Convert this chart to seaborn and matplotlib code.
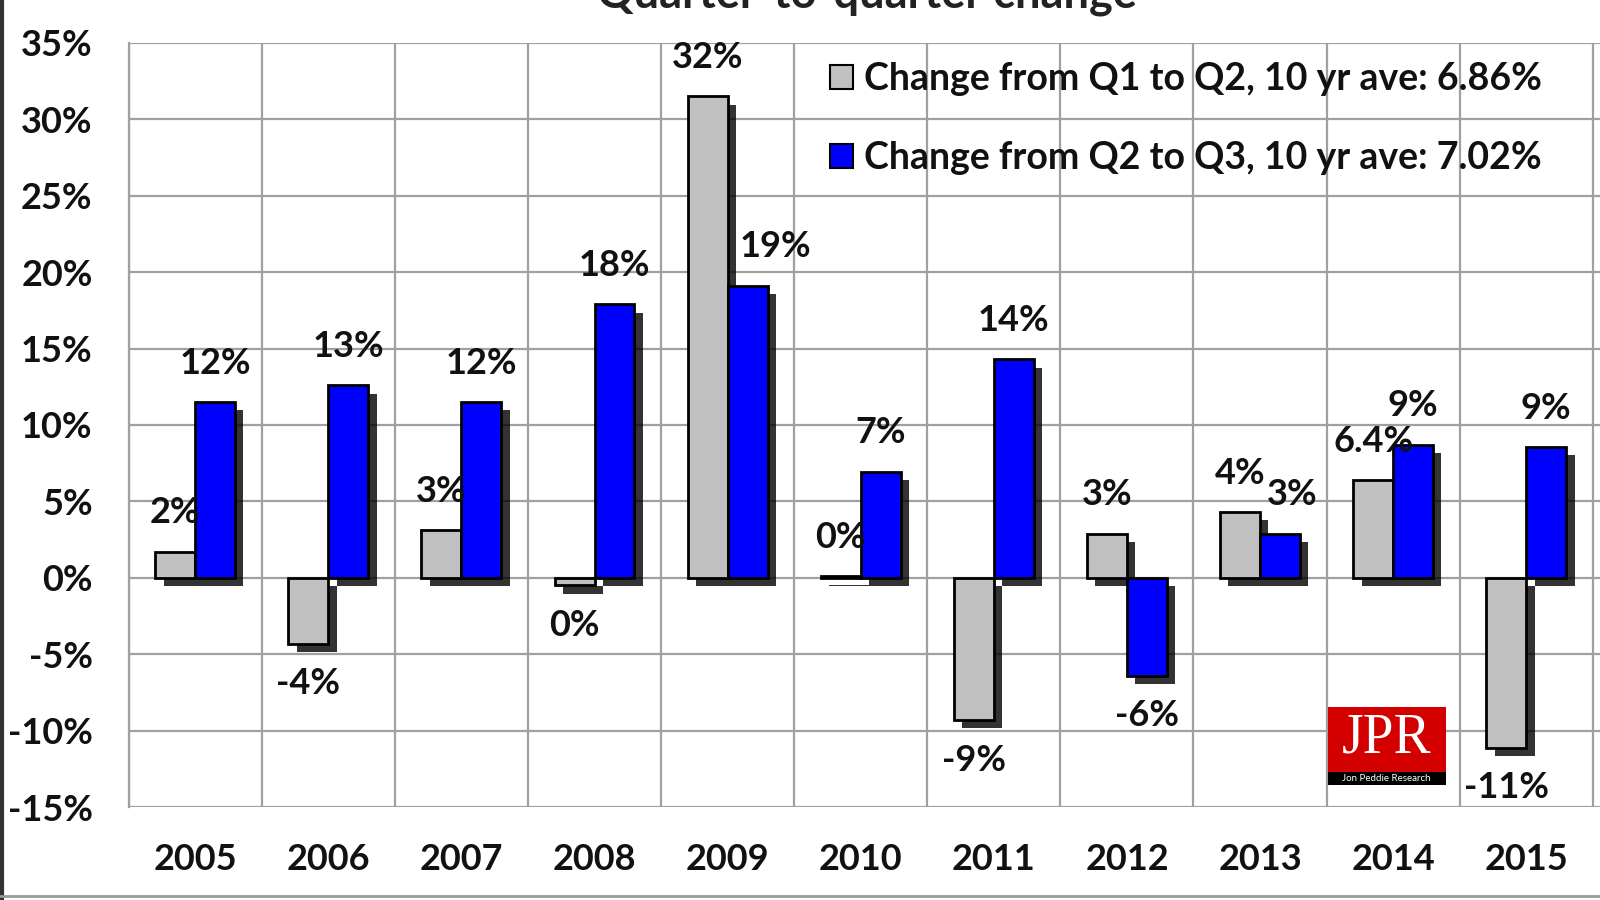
import matplotlib
matplotlib.use("Agg")
import matplotlib.pyplot as plt
import matplotlib.patheffects as pe
from matplotlib.patches import Patch, Rectangle
from matplotlib.lines import Line2D
import seaborn as sns
import pandas as pd
import numpy as np

years = ["2005", "2006", "2007", "2008", "2009", "2010", "2011", "2012", "2013", "2014", "2015"]
q1_q2 = [1.7, -4.3, 3.1, -0.5, 31.5, 0.1, -9.3, 2.9, 4.3, 6.4, -11.1]
q2_q3 = [11.5, 12.6, 11.5, 17.9, 19.1, 6.95, 14.3, -6.4, 2.9, 8.7, 8.55]
q1_q2_labels = ["2%", "-4%", "3%", "0%", "32%", "0%", "-9%", "3%", "4%", "6.4%", "-11%"]
q2_q3_labels = ["12%", "13%", "12%", "18%", "19%", "7%", "14%", "-6%", "3%", "9%", "9%"]
series_names = ["Change from Q1 to Q2, 10 yr ave: 6.86%",
                "Change from Q2 to Q3, 10 yr ave: 7.02%"]
title = "Quarter-to-quarter change"
y_ticks = [-15, -10, -5, 0, 5, 10, 15, 20, 25, 30, 35]

colors = ["#c0c0c0", "#0000ff"]
FONT = ["Lato", "DejaVu Sans"]
FS = 26

df = pd.DataFrame({
    "year": years * 2,
    "value": q1_q2 + q2_q3,
    "series": [series_names[0]] * len(years) + [series_names[1]] * len(years),
})

sns.set_theme(style="white")
plt.rcParams["font.family"] = FONT
plt.rcParams["font.weight"] = "bold"

fig = plt.figure(figsize=(16, 9), dpi=100)
ax = fig.add_axes([0.0804, 0.1032, 0.9196, 0.8492])

sns.barplot(data=df, x="year", y="value", hue="series", palette=colors,
            width=0.6, edgecolor="black", linewidth=2, ax=ax, legend=False,
            saturation=1, zorder=3)

shadow = [pe.SimplePatchShadow(offset=(6, -6), shadow_rgbFace="black", alpha=0.8),
          pe.Normal()]
for bar in ax.patches:
    bar.set_path_effects(shadow)

ax.set_ylim(-15, 35)
ax.set_xlim(-0.5, 10.554)
ax.set_yticks(y_ticks)
ax.set_yticklabels([f"{t}%" for t in y_ticks])
ax.set_xlabel("")
ax.set_ylabel("")

# grid
gridc = "#a0a0a0"
ax.set_xticks(np.arange(-0.5, 11, 1), minor=True)
ax.grid(True, axis="y", which="major", color=gridc, lw=1.6, zorder=0)
ax.grid(True, axis="x", which="minor", color=gridc, lw=1.6, zorder=0)
ax.grid(False, axis="x", which="major")
for s in ["top", "right", "bottom"]:
    ax.spines[s].set_visible(False)
ax.spines["left"].set_color(gridc)
ax.spines["left"].set_linewidth(1.6)
ax.tick_params(axis="both", which="both", length=0)
ax.tick_params(axis="y", pad=26, labelsize=FS)
ax.tick_params(axis="x", pad=26, labelsize=FS)
for lab in ax.get_xticklabels() + ax.get_yticklabels():
    lab.set_fontweight("bold")
    lab.set_color("#111111")

# data labels
nudges = {(1, 4): 20, (1, 8): 9}
for si, (cont, labels) in enumerate(zip(ax.containers, [q1_q2_labels, q2_q3_labels])):
    for i, (bar, lab) in enumerate(zip(cont, labels)):
        v = bar.get_height()
        x = bar.get_x() + bar.get_width() / 2
        if v >= 0:
            yv = max(bar.get_y(), bar.get_y() + v)
            dy = 28
        else:
            yv = min(bar.get_y(), bar.get_y() + v)
            dy = -29
        ax.annotate(lab, (x, yv), xytext=(nudges.get((si, i), 0), dy),
                    textcoords="offset points", ha="center", va="center",
                    fontsize=FS, fontweight="bold", color="#111111", zorder=5)

# legend
handles = [Patch(facecolor=c, edgecolor="black", linewidth=1.5) for c in colors]
leg = ax.legend(handles, series_names, loc="upper left", bbox_to_anchor=(0.459, 1.009),
                frameon=False, fontsize=27, handlelength=0.6, handleheight=0.6,
                handletextpad=0.3, labelspacing=1.2, borderaxespad=0.3)
for t in leg.get_texts():
    t.set_fontweight("bold")
    t.set_color("#111111")

# title (cut off at top)
fig.text(0.542, 0.992, title, ha="center", va="baseline", fontsize=32.5,
         fontweight="bold", color="#222222")

# JPR logo
fig.patches.append(Rectangle((0.8297, 0.1417), 0.074, 0.0726, transform=fig.transFigure,
                             facecolor="#d40000", edgecolor="none", zorder=6))
fig.patches.append(Rectangle((0.8297, 0.1281), 0.074, 0.0136, transform=fig.transFigure,
                             facecolor="black", edgecolor="none", zorder=6))
fig.text(0.8667, 0.179, "JPR", ha="center", va="center", fontsize=40,
         family=["Liberation Serif", "DejaVu Serif"], fontweight="normal",
         color="white", zorder=7)
fig.text(0.8667, 0.1349, "Jon Peddie Research", ha="center", va="center", fontsize=7,
         fontweight="normal", color="white", zorder=7)

# figure border
fig.add_artist(Line2D([0.001, 0.001], [0.0, 1.0], transform=fig.transFigure,
                      color="#333333", lw=3))
fig.add_artist(Line2D([0.0, 1.0], [0.004, 0.004], transform=fig.transFigure,
                      color="#999999", lw=2))

fig.savefig("out.png", dpi=100)
